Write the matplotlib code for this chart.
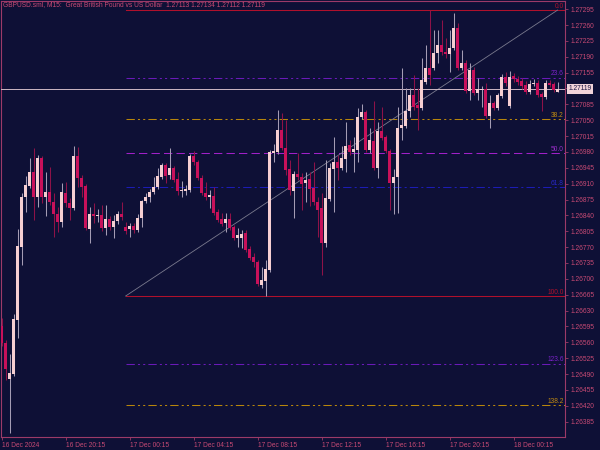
import matplotlib
matplotlib.use("Agg")
import matplotlib.pyplot as plt
import numpy as np
import pandas as pd

# ---------------- data (GBPUSD M15) ----------------
opens = [
    1.26596, 1.26559, 1.26479, 1.26490, 1.26609, 1.26770, 1.26880, 1.26905, 1.26936, 1.26880,
    1.26966, 1.26880, 1.26891, 1.26869, 1.26843, 1.26825, 1.26889, 1.26867, 1.26856, 1.26971,
    1.26922, 1.26905, 1.26810, 1.26843, 1.26839, 1.26841, 1.26812, 1.26832, 1.26814, 1.26827,
    1.26843, 1.26814, 1.26810, 1.26817, 1.26808, 1.26834, 1.26872, 1.26880, 1.26891, 1.26903,
    1.26925, 1.26951, 1.26929, 1.26944, 1.26920, 1.26894, 1.26894, 1.26896, 1.26971, 1.26958,
    1.26922, 1.26889, 1.26880, 1.26883, 1.26847, 1.26832, 1.26823, 1.26832, 1.26814, 1.26790,
    1.26790, 1.26801, 1.26766, 1.26748, 1.26737, 1.26686, 1.26695, 1.26720, 1.26978, 1.26980,
    1.27028, 1.26989, 1.26942, 1.26894, 1.26931, 1.26925, 1.26911, 1.26920, 1.26900, 1.26869,
    1.26856, 1.26779, 1.26876, 1.26942, 1.26958, 1.26944, 1.26964, 1.26995, 1.26980, 1.26984,
    1.27057, 1.27068, 1.26984, 1.27004, 1.26944, 1.27026, 1.27013, 1.26982, 1.26911, 1.26925,
    1.27033, 1.27037, 1.27070, 1.27105, 1.27083, 1.27077, 1.27134, 1.27165, 1.27165, 1.27198,
    1.27216, 1.27200, 1.27196, 1.27209, 1.27253, 1.27165, 1.27176, 1.27114, 1.27160, 1.27110,
    1.27116, 1.27119, 1.27059, 1.27088, 1.27077, 1.27103, 1.27145, 1.27081, 1.27147, 1.27141,
    1.27136, 1.27127, 1.27112, 1.27130, 1.27132, 1.27108, 1.27101, 1.27132, 1.27130, 1.27113,
]
highs = [
    1.26614, 1.26565, 1.26534, 1.26622, 1.26810, 1.26889, 1.26927, 1.26966, 1.26988, 1.26973,
    1.26971, 1.26936, 1.26947, 1.26889, 1.26858, 1.26911, 1.26914, 1.26878, 1.26993, 1.26991,
    1.26929, 1.26909, 1.26858, 1.26867, 1.26854, 1.26863, 1.26863, 1.26839, 1.26841, 1.26850,
    1.26869, 1.26825, 1.26823, 1.26823, 1.26843, 1.26874, 1.26889, 1.26898, 1.26925, 1.26944,
    1.26955, 1.26955, 1.26988, 1.26949, 1.26936, 1.26916, 1.26907, 1.26975, 1.26982, 1.26962,
    1.26929, 1.26914, 1.26896, 1.26903, 1.26854, 1.26845, 1.26845, 1.26845, 1.26819, 1.26812,
    1.26808, 1.26808, 1.26772, 1.26757, 1.26742, 1.26726, 1.26742, 1.26984, 1.26997, 1.27072,
    1.27066, 1.27050, 1.26962, 1.26938, 1.26978, 1.26933, 1.26936, 1.26936, 1.26958, 1.26880,
    1.26889, 1.26962, 1.26955, 1.27013, 1.26973, 1.26993, 1.27046, 1.27006, 1.27013, 1.27077,
    1.27086, 1.27072, 1.27033, 1.27092, 1.27046, 1.27079, 1.27017, 1.26986, 1.26942, 1.27079,
    1.27165, 1.27121, 1.27121, 1.27150, 1.27121, 1.27187, 1.27216, 1.27293, 1.27249, 1.27249,
    1.27271, 1.27231, 1.27249, 1.27286, 1.27264, 1.27205, 1.27183, 1.27176, 1.27167, 1.27143,
    1.27125, 1.27132, 1.27105, 1.27092, 1.27110, 1.27152, 1.27156, 1.27158, 1.27154, 1.27147,
    1.27143, 1.27136, 1.27138, 1.27141, 1.27138, 1.27112, 1.27138, 1.27138, 1.27134, 1.27134,
]
lows = [
    1.26552, 1.26477, 1.26360, 1.26486, 1.26570, 1.26730, 1.26847, 1.26900, 1.26830, 1.26858,
    1.26867, 1.26839, 1.26863, 1.26792, 1.26803, 1.26814, 1.26858, 1.26830, 1.26852, 1.26903,
    1.26880, 1.26808, 1.26779, 1.26823, 1.26825, 1.26805, 1.26797, 1.26808, 1.26790, 1.26821,
    1.26830, 1.26799, 1.26792, 1.26801, 1.26803, 1.26814, 1.26867, 1.26869, 1.26887, 1.26898,
    1.26920, 1.26911, 1.26920, 1.26914, 1.26885, 1.26880, 1.26885, 1.26891, 1.26951, 1.26918,
    1.26885, 1.26874, 1.26856, 1.26841, 1.26825, 1.26817, 1.26803, 1.26808, 1.26786, 1.26770,
    1.26768, 1.26759, 1.26742, 1.26726, 1.26684, 1.26680, 1.26662, 1.26715, 1.26958, 1.26975,
    1.26984, 1.26929, 1.26885, 1.26834, 1.26918, 1.26852, 1.26869, 1.26861, 1.26863, 1.26792,
    1.26709, 1.26770, 1.26872, 1.26847, 1.26918, 1.26940, 1.26936, 1.26973, 1.26936, 1.26958,
    1.27053, 1.26980, 1.26978, 1.26940, 1.26922, 1.27006, 1.26978, 1.26852, 1.26843, 1.26845,
    1.27006, 1.27033, 1.27057, 1.27072, 1.27028, 1.27072, 1.27130, 1.27127, 1.27160, 1.27176,
    1.27194, 1.27187, 1.27156, 1.27205, 1.27160, 1.27160, 1.27110, 1.27094, 1.27105, 1.27094,
    1.27079, 1.27055, 1.27033, 1.27072, 1.27072, 1.27099, 1.27125, 1.27077, 1.27134, 1.27127,
    1.27119, 1.27108, 1.27108, 1.27125, 1.27101, 1.27070, 1.27097, 1.27123, 1.27112, 1.27112,
]
closes = [
    1.26559, 1.26501, 1.26492, 1.26611, 1.26772, 1.26880, 1.26907, 1.26936, 1.26880, 1.26966,
    1.26880, 1.26891, 1.26869, 1.26843, 1.26825, 1.26891, 1.26867, 1.26856, 1.26971, 1.26922,
    1.26903, 1.26812, 1.26843, 1.26839, 1.26841, 1.26812, 1.26832, 1.26814, 1.26827, 1.26843,
    1.26836, 1.26805, 1.26817, 1.26808, 1.26834, 1.26872, 1.26880, 1.26891, 1.26903, 1.26927,
    1.26951, 1.26927, 1.26944, 1.26918, 1.26894, 1.26896, 1.26898, 1.26971, 1.26958, 1.26922,
    1.26889, 1.26880, 1.26885, 1.26845, 1.26830, 1.26821, 1.26832, 1.26812, 1.26790, 1.26797,
    1.26799, 1.26764, 1.26746, 1.26737, 1.26689, 1.26697, 1.26722, 1.26980, 1.26982, 1.27028,
    1.26989, 1.26940, 1.26896, 1.26931, 1.26925, 1.26909, 1.26918, 1.26898, 1.26869, 1.26852,
    1.26779, 1.26878, 1.26944, 1.26958, 1.26944, 1.26966, 1.26993, 1.26980, 1.26986, 1.27057,
    1.27068, 1.26984, 1.27006, 1.26944, 1.27026, 1.27011, 1.26982, 1.26911, 1.26925, 1.27033,
    1.27039, 1.27070, 1.27105, 1.27079, 1.27077, 1.27138, 1.27165, 1.27150, 1.27198, 1.27216,
    1.27200, 1.27196, 1.27209, 1.27253, 1.27165, 1.27176, 1.27114, 1.27160, 1.27110, 1.27119,
    1.27119, 1.27059, 1.27088, 1.27077, 1.27105, 1.27145, 1.27132, 1.27145, 1.27141, 1.27134,
    1.27125, 1.27112, 1.27130, 1.27132, 1.27105, 1.27101, 1.27132, 1.27127, 1.27116, 1.27119,
]

start_time = "2024-12-16 16:15"
x_tick_labels = ["16 Dec 2024", "16 Dec 20:15", "17 Dec 00:15", "17 Dec 04:15",
                 "17 Dec 08:15", "17 Dec 12:15", "17 Dec 16:15", "17 Dec 20:15",
                 "18 Dec 00:15"]
fib_levels = [0.0, 23.6, 38.2, 50.0, 61.8, 100.0, 123.6, 138.2]
fib_low_bar, fib_high_bar = 66, 107       # swing low / swing high candles
fib_anchor_bars = [31, 139]                 # where the fibo object is anchored in time
symbol_text = "GBPUSD.sml, M15:  Great British Pound vs US Dollar"

# ---------------- style ----------------
BG = "#0E1036"
BULL_BODY = "#F6CFD2"
BULL_WICK = "#A49CB4"
BEAR_BODY = "#C8115A"
BEAR_WICK = "#8E1248"
FRAME = "#9C3A68"
TXT = "#C84A74"
FONT = "Liberation Sans"
FS = 4.8

fib_style = {
    0.0:   ("#B0102C", "-"),
    23.6:  ("#6A1AB8", (0, (8, 3, 2, 3, 2, 3))),
    38.2:  ("#B8860B", (0, (8, 3, 2, 3, 2, 3))),
    50.0:  ("#A020C8", (0, (8, 4))),
    61.8:  ("#1C1CB4", (0, (8, 3, 2, 3))),
    100.0: ("#B0102C", "-"),
    123.6: ("#6A1AB8", (0, (8, 3, 2, 3, 2, 3))),
    138.2: ("#B8860B", (0, (8, 3, 2, 3, 2, 3))),
}
fib_label_color = {0.0: "#B0102C", 23.6: "#7A22C8", 38.2: "#C08A10", 50.0: "#9A2EC8",
                   61.8: "#2828C8", 100.0: "#B0102C", 123.6: "#7A22C8", 138.2: "#C08A10"}

o = np.array(opens); h = np.array(highs); l = np.array(lows); c = np.array(closes)
n = len(o)
times = pd.date_range(start_time, periods=n, freq="15min")
xs = np.arange(n)
bull = c >= o

fig = plt.figure(figsize=(6, 4.5), dpi=100, facecolor=BG)
ax = fig.add_axes([1 / 600, 13 / 450, 564 / 600, 436 / 450], facecolor=BG)

# wicks
ax.vlines(xs[bull], l[bull], h[bull], colors=BULL_WICK, linewidth=0.75, zorder=3)
ax.vlines(xs[~bull], l[~bull], h[~bull], colors=BEAR_WICK, linewidth=0.75, zorder=3)
# bodies
min_h = 0.000022
bottoms = np.minimum(o, c)
heights = np.maximum(np.abs(c - o), min_h)
ax.bar(xs[bull], heights[bull], bottom=bottoms[bull], width=0.7, color=BULL_BODY,
       linewidth=0, zorder=4)
ax.bar(xs[~bull], heights[~bull], bottom=bottoms[~bull], width=0.7, color=BEAR_BODY,
       linewidth=0, zorder=4)

x_left, x_right = -0.15, 140.85
ax.set_xlim(x_left, x_right)
ax.set_ylim(1.26351, 1.27313)

# fibonacci
fib_lo = l[fib_low_bar]
fib_hi = h[fib_high_bar]
for lvl in fib_levels:
    price = fib_hi - (fib_hi - fib_lo) * lvl / 100.0
    col, ls = fib_style[lvl]
    ax.plot([fib_anchor_bars[0], x_right], [price, price], color=col, linestyle=ls,
            linewidth=0.75, zorder=2)
    ax.text(x_right - 0.3, price + 0.000005, f"{lvl:.1f}", color=fib_label_color[lvl],
            fontsize=FS, family=FONT, ha="right", va="bottom", zorder=5)
ax.plot(fib_anchor_bars, [fib_lo, fib_hi], color="#7A7A8E", linewidth=0.6, zorder=2)

# bid line
bid = c[-1]
ax.axhline(bid, color="#CDB8C4", linewidth=0.7, zorder=2.6)
ax.annotate(f"{bid:.5f}", xy=(1.0, bid), xycoords=("axes fraction", "data"),
            xytext=(3.5, 0), textcoords="offset pixels", ha="left", va="center",
            fontsize=FS, family=FONT, color="#1A1440", zorder=10, annotation_clip=False,
            bbox=dict(boxstyle="square,pad=0.25", fc="#F2D4DA", ec="none"))

# axes styling
for s in ax.spines.values():
    s.set_color(FRAME)
    s.set_linewidth(0.8)
ax.yaxis.tick_right()
yt = [round(1.26385 + 0.00035 * i, 5) for i in range(27)]
ax.set_yticks(yt)
# the tick label hidden by the bid price box is left blank
ax.set_yticklabels(["" if abs(v - bid) < 0.00012 else f"{v:.5f}" for v in yt])
ax.tick_params(axis="y", direction="out", length=2.5, width=0.6, color=FRAME,
               labelcolor=TXT, labelsize=FS, pad=1.2)

tick_idx = [i for i, t in enumerate(times) if t.hour % 4 == 0 and t.minute == 15]
ax.set_xticks(tick_idx)
ax.set_xticklabels(x_tick_labels[:len(tick_idx)], ha="left")
ax.tick_params(axis="x", direction="out", length=2.5, width=0.6, color=FRAME,
               labelcolor=TXT, labelsize=FS, pad=1.0)
for lab in ax.get_xticklabels() + ax.get_yticklabels():
    lab.set_family(FONT)

fig.text(3 / 600, 1 - 5 / 450,
         f"{symbol_text}  {o[-1]:.5f} {h[-1]:.5f} {l[-1]:.5f} {c[-1]:.5f}",
         color=TXT, fontsize=FS, family=FONT, ha="left", va="center")

fig.savefig("out.png", dpi=100, facecolor=BG)
